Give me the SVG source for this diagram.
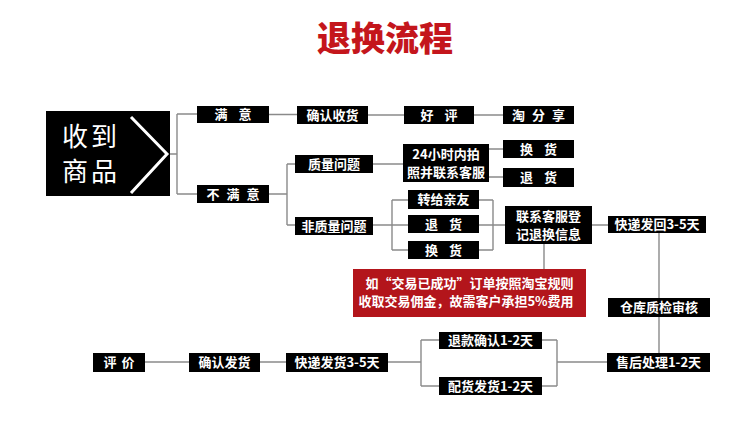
<svg xmlns="http://www.w3.org/2000/svg" width="750" height="421" viewBox="0 0 750 421">
<style>
.bx{fill:#000}
.t{fill:#fff;font-family:"Noto Sans CJK SC","Noto Sans",sans-serif;font-weight:bold;font-size:13px;text-anchor:middle}
.t14{font-size:13px}
.sp{letter-spacing:4px}
.big{fill:#fff;font-family:"Noto Sans CJK SC",sans-serif;font-size:26px;text-anchor:middle;letter-spacing:3px}
.c{fill:none;stroke:#8a8a8a;stroke-width:1.4}
</style>
<rect width="750" height="421" fill="#fff"/>
<g id="title"><text x="385" y="51" text-anchor="middle" font-family="'Noto Sans CJK SC',sans-serif" font-weight="900" font-size="34" fill="#c4161c">退换流程</text></g>
<g id="connectors" class="c">
<path d="M170,154H177M177,114V194M177,114H197M177,194H197"/>
<path d="M269,114.5H297M368,115H404M474,115H503"/>
<path d="M269,194H287M287,164V225M287,164H295M287,225H295"/>
<path d="M373,164H403M489,149H503M489,177H503"/>
<path d="M373,225H392M392,200V250M392,200H408M392,225H408M392,250H408"/>
<path d="M479,200H493M479,225H493M479,250H493M493,200V250M493,225H505"/>
<path d="M592,225H608M544,244V269"/>
<path d="M659,233V298M659,317V353"/>
<path d="M607,362H557M557,340V386M542,340H557M542,386H557"/>
<path d="M439,340H421M439,386H421M421,340V386M421,362H388"/>
<path d="M286,362H260M189,362H145"/>
</g>
<g id="n-receive">
<rect class="bx" x="46" y="111" width="124" height="85"/>
<text class="big" x="91" y="146">收到</text>
<text class="big" x="91" y="181">商品</text>
<polyline points="131,117 167,154 131,193" fill="none" stroke="#fff" stroke-width="3"/>
</g>
<g id="n-satisfied"><rect class="bx" x="197" y="106" width="72" height="17"/><text class="t sp" x="235" y="119">满 意</text></g>
<g id="n-confirm"><rect class="bx" x="297" y="106" width="71" height="18"/><text class="t" x="332.5" y="119.5">确认收货</text></g>
<g id="n-good"><rect class="bx" x="404" y="106" width="70" height="18"/><text class="t sp" x="441" y="119.5">好 评</text></g>
<g id="n-share"><rect class="bx" x="503" y="106" width="71" height="18"/><text class="t" x="539.5" y="119.5" letter-spacing="2">淘 分 享</text></g>
<g id="n-unsat"><rect class="bx" x="197" y="185" width="72" height="18"/><text class="t" x="234" y="198.5" letter-spacing="2">不 满 意</text></g>
<g id="n-quality"><rect class="bx" x="295" y="155" width="78" height="18"/><text class="t" x="334" y="168.5">质量问题</text></g>
<g id="n-24h"><rect class="bx" x="403" y="144" width="86" height="38"/><text class="t t14" x="446" y="158.5">24小时内拍</text><text class="t t14" x="446" y="177">照并联系客服</text></g>
<g id="n-exchange1"><rect class="bx" x="503" y="140" width="71" height="18"/><text class="t sp" x="540.5" y="153.5">换 货</text></g>
<g id="n-return1"><rect class="bx" x="503" y="168" width="71" height="19"/><text class="t sp" x="540.5" y="182">退 货</text></g>
<g id="n-nonquality"><rect class="bx" x="295" y="217" width="78" height="18"/><text class="t" x="334" y="230.5">非质量问题</text></g>
<g id="n-gift"><rect class="bx" x="408" y="190" width="71" height="19"/><text class="t" x="443.5" y="204">转给亲友</text></g>
<g id="n-return2"><rect class="bx" x="408" y="215" width="71" height="18"/><text class="t sp" x="445.5" y="228.5">退 货</text></g>
<g id="n-exchange2"><rect class="bx" x="408" y="241" width="71" height="18"/><text class="t sp" x="445.5" y="254.5">换 货</text></g>
<g id="n-contact"><rect class="bx" x="505" y="206" width="87" height="38"/><text class="t t14" x="548.5" y="220.5">联系客服登</text><text class="t t14" x="548.5" y="239">记退换信息</text></g>
<g id="n-note"><rect x="353" y="269" width="233" height="48" fill="#b3151b"/><text class="t" x="469.5" y="288" font-size="13.5">如“交易已成功”订单按照淘宝规则</text><text class="t" x="466" y="306" font-size="13">收取交易佣金，故需客户承担5%费用</text></g>
<g id="n-shipback"><rect class="bx" x="608" y="216" width="98" height="17"/><text class="t" x="657" y="229">快递发回3-5天</text></g>
<g id="n-inspect"><rect class="bx" x="608" y="298" width="102" height="19"/><text class="t" x="659" y="312">仓库质检审核</text></g>
<g id="n-aftersale"><rect class="bx" x="607" y="353" width="103" height="19"/><text class="t" x="658.5" y="367">售后处理1-2天</text></g>
<g id="n-refund"><rect class="bx" x="439" y="332" width="103" height="17"/><text class="t" x="490.5" y="345">退款确认1-2天</text></g>
<g id="n-reship"><rect class="bx" x="439" y="377" width="103" height="18"/><text class="t" x="490.5" y="390.5">配货发货1-2天</text></g>
<g id="n-ship"><rect class="bx" x="286" y="353" width="102" height="19"/><text class="t" x="337" y="367">快递发货3-5天</text></g>
<g id="n-confirmship"><rect class="bx" x="189" y="353" width="71" height="19"/><text class="t" x="224.5" y="367">确认发货</text></g>
<g id="n-review"><rect class="bx" x="93" y="353" width="52" height="19"/><text class="t" x="119.5" y="367" letter-spacing="1">评 价</text></g>
</svg>
